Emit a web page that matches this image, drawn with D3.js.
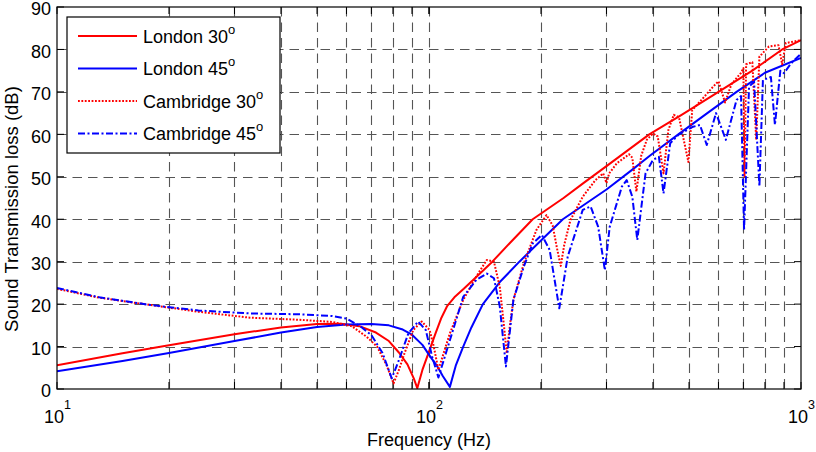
<!DOCTYPE html>
<html>
<head>
<meta charset="utf-8">
<script src="https://cdn.jsdelivr.net/npm/d3@7"></script>
<style>
body { margin: 0; background: #fff; }
svg { display: block; }
text { font-family: "Liberation Sans", Arial, Helvetica, sans-serif; fill: #000; }
</style>
</head>
<body>
<svg id="chart" width="816" height="452"></svg>
<script>
// [frequency (Hz), transmission loss (dB)]
var london30 = [[10,5.6],[15,8.4],[20,10.3],[30,12.9],[40,14.5],[50,15.3],[58,15.4],[65,14.8],[72,13.3],[78,11.3],[83,8.6],[87.5,5.8],[91,2.5],[93,0.2],[96,4.5],[100,8.8],[104,13],[108,16.8],[112,19.6],[117,21.6],[124,23.6],[134,26.4],[148,30],[165,34.4],[190,40],[230,45],[260,48.5],[300,52.5],[391,60],[480,64.7],[600,70],[740,75],[890,80],[1000,82.2]];
var london45 = [[10,4.2],[15,6.6],[20,8.5],[30,11.3],[40,13.3],[50,14.6],[60,15.2],[70,15.3],[78,15],[85,14],[90,12.8],[96,10.4],[101,7.5],[105,5.5],[109,3],[113.8,0.5],[118,5.5],[123.6,10],[130,14.5],[139.6,20],[155,25.2],[175,30],[200,35],[229,40],[300,47],[350,51.5],[393,55],[468,60],[560,65],[671,70],[800,74.5],[1000,78]];
var cambridge30 = [[10,23.6],[13,21.5],[17.8,19.8],[24,18.2],[33,16.8],[45,16.3],[55,15.8],[62,14.8],[68,12.3],[72.5,10],[77,5.5],[80.3,1.3],[83,4.5],[86,8.5],[90.7,13.9],[95.6,15.9],[100.4,13.9],[103,10],[106,4.5],[110,9],[113.8,13.1],[123.6,21],[134,26.5],[143,30.4],[149.5,30],[155,24],[159,15],[161.8,8.4],[165,15],[168.6,21],[179.8,29.6],[194.5,37.5],[207,41],[215,38.5],[221,33],[226,29],[231,34],[240,39.8],[259,45.3],[280,49.2],[294,50.8],[300,48.5],[305,50.8],[320,53.2],[345,55.3],[352,54.5],[361,46.5],[372,55],[385,58.7],[400,60.2],[412,59.5],[427,50.8],[440,61],[455,64.6],[470,64],[498,53.5],[510,65.7],[540,68.1],[580,71.2],[600,72.5],[625,67.5],[650,71.8],[690,74.5],[700,75.6],[705,50],[712,76.5],[740,77],[758,58.7],[773,78.3],[820,80.7],[870,81],[890,76.5],[910,81.5],[1000,82.2]];
var cambridge45 = [[10,23.8],[13,21.6],[17.8,19.8],[24,18.5],[33,17.8],[45,17.6],[55,17.2],[60,16.6],[66,14.5],[70,12.7],[75,8.5],[79.4,2.5],[83,6.8],[88,13.1],[93.5,15.9],[98,13.9],[102,7.6],[106,2.7],[113.8,11.5],[123.6,21.7],[134,25.7],[143,27.2],[149.5,26.1],[155,19.4],[161,5.3],[168.6,21],[179.8,28.8],[190,34.3],[201,36.3],[211,32.8],[224,19],[236,31.2],[259,42.2],[272,43],[285,38.2],[297,28],[306,38.2],[330,47.7],[340,49.2],[352,45.3],[363,35.1],[382,50.8],[400,54],[415,54.7],[427,46.1],[445,57.9],[470,60],[513,61.8],[535,62.2],[558,57.5],[591,65],[628,58.7],[671,68.1],[690,69],[703,37.5],[725,71.2],[748,72.4],[773,47.7],[790,72.8],[830,73.5],[851,62.2],[880,75],[900,74.4],[940,76.7],[1000,79]];

var series = [
    {name: "London 30", data: london30, color: "#ff0000", dash: null},
    {name: "London 45", data: london45, color: "#0000ff", dash: null},
    {name: "Cambridge 30", data: cambridge30, color: "#ff0000", dash: "1.8,1.6"},
    {name: "Cambridge 45", data: cambridge45, color: "#0000ff", dash: "7,2.5,2,2.5"}
];

var xMajor = [10, 100, 1000];
var yTicks = [0, 10, 20, 30, 40, 50, 60, 70, 80, 90];

var margin = {top: 7, right: 15, bottom: 63, left: 57};
var width = 816 - margin.left - margin.right;
var height = 452 - margin.top - margin.bottom;

var svg = d3.select("#chart");
var g = svg.append("g").attr("transform", "translate(" + margin.left + "," + margin.top + ")");

var x = d3.scaleLog().domain([10, 1000]).range([0, width]);
var y = d3.scaleLinear().domain([0, 90]).range([height, 0]);

// every decade step gets a grid line + tick (MATLAB minor log grid)
var xMinor = [];
for (var dec = 10; dec < 1000; dec *= 10) {
    for (var k = 2; k <= 9; k++) xMinor.push(dec * k);
}
var xGrid = xMinor.concat([100]);

g.append("defs").append("clipPath").attr("id", "plotclip")
    .append("rect").attr("width", width).attr("height", height);

// grid
var grid = g.append("g").attr("stroke", "#555").attr("stroke-width", 1.1).attr("stroke-dasharray", "9.5,6");
grid.selectAll(".vg").data(xGrid).enter().append("line")
    .attr("x1", function(d) { return Math.round(x(d)) + 0.5; })
    .attr("x2", function(d) { return Math.round(x(d)) + 0.5; })
    .attr("y1", 0).attr("y2", height);
grid.selectAll(".hg").data(yTicks.slice(1, -1)).enter().append("line")
    .attr("y1", function(d) { return Math.round(y(d)) + 0.5; })
    .attr("y2", function(d) { return Math.round(y(d)) + 0.5; })
    .attr("x1", 0).attr("x2", width);

// inward ticks on all four sides
var tk = g.append("g").attr("stroke", "#000").attr("stroke-width", 1);
var xAllTicks = xGrid.concat(xMajor);
tk.selectAll(".tb").data(xAllTicks).enter().append("line")
    .attr("x1", function(d) { return x(d); }).attr("x2", function(d) { return x(d); })
    .attr("y1", height).attr("y2", height - 7);
tk.selectAll(".tt").data(xAllTicks).enter().append("line")
    .attr("x1", function(d) { return x(d); }).attr("x2", function(d) { return x(d); })
    .attr("y1", 0).attr("y2", 7);
tk.selectAll(".tl").data(yTicks).enter().append("line")
    .attr("y1", function(d) { return y(d); }).attr("y2", function(d) { return y(d); })
    .attr("x1", 0).attr("x2", 7);
tk.selectAll(".tr").data(yTicks).enter().append("line")
    .attr("y1", function(d) { return y(d); }).attr("y2", function(d) { return y(d); })
    .attr("x1", width).attr("x2", width - 7);

// curves
var line = d3.line()
    .x(function(d) { return x(d[0]); })
    .y(function(d) { return y(d[1]); });

g.append("g").attr("clip-path", "url(#plotclip)")
    .selectAll("path").data(series).enter().append("path")
    .attr("d", function(s) { return line(s.data); })
    .attr("fill", "none")
    .attr("stroke", function(s) { return s.color; })
    .attr("stroke-width", 2)
    .attr("stroke-linejoin", "round")
    .attr("stroke-dasharray", function(s) { return s.dash; });

// box
g.append("rect").attr("width", width).attr("height", height)
    .attr("fill", "none").attr("stroke", "#000").attr("stroke-width", 1.2);

// tick labels
g.selectAll(".ylab").data(yTicks).enter().append("text")
    .attr("x", -6).attr("y", function(d) { return y(d) + 2; })
    .attr("dy", "0.35em").attr("text-anchor", "end")
    .style("font-size", "18px")
    .text(function(d) { return d; });

var xl = g.selectAll(".xlab").data(xMajor).enter().append("text")
    .attr("x", function(d) { return x(d) - 13; }).attr("y", height + 34)
    .style("font-size", "18px");
xl.append("tspan").text("10");
xl.append("tspan").attr("dy", -14).style("font-size", "12.5px")
    .text(function(d) { return Math.round(Math.log10(d)); });

// axis titles
g.append("text").attr("x", width / 2).attr("y", height + 57)
    .attr("text-anchor", "middle").style("font-size", "18px")
    .text("Frequency (Hz)");
g.append("text").attr("transform", "translate(" + (-39) + "," + (height / 2 + 11) + ") rotate(-90)")
    .attr("text-anchor", "middle").style("font-size", "18.5px")
    .text("Sound Transmission loss (dB)");

// legend
var leg = g.append("g").attr("transform", "translate(" + (67 - margin.left) + "," + (17 - margin.top) + ")");
leg.append("rect").attr("width", 213).attr("height", 136)
    .attr("fill", "#fff").attr("stroke", "#000").attr("stroke-width", 1.2);
var items = leg.selectAll(".li").data(series).enter().append("g")
    .attr("transform", function(d, i) { return "translate(0," + (19 + i * 32.5) + ")"; });
items.append("line").attr("x1", 11).attr("x2", 70).attr("y1", 0).attr("y2", 0)
    .attr("stroke", function(s) { return s.color; })
    .attr("stroke-width", 2)
    .attr("stroke-dasharray", function(s) { return s.dash; });
var lt = items.append("text").attr("x", 76).attr("y", 6.5).style("font-size", "18px");
lt.append("tspan").text(function(s) { return s.name; });
lt.append("tspan").attr("dy", -9).style("font-size", "13px").text("o");
</script>
</body>
</html>
